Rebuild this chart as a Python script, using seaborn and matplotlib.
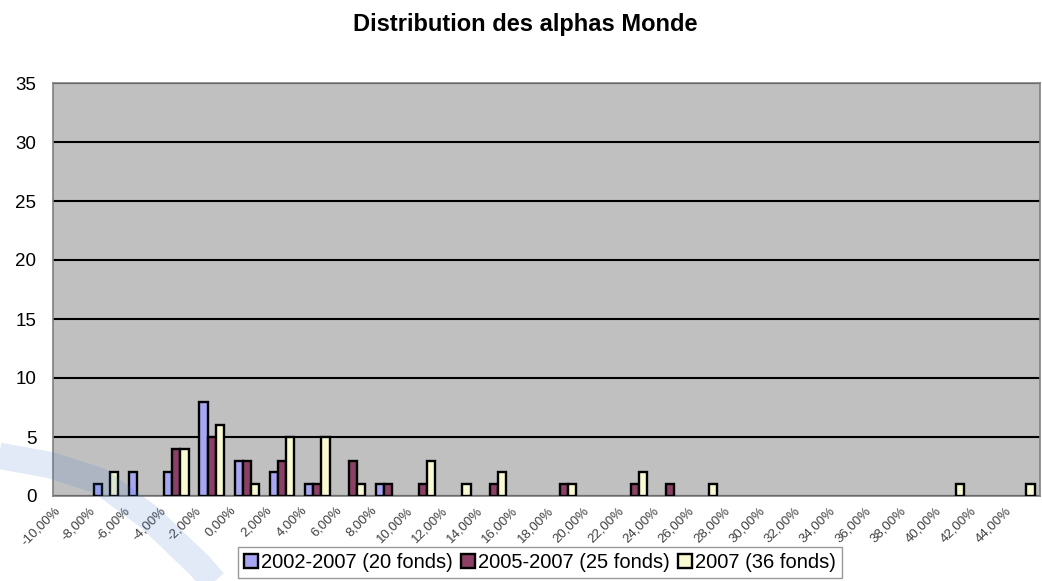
import numpy as np
import pandas as pd
import seaborn as sns
import matplotlib.transforms as mtransforms
from matplotlib import pyplot as plt
from matplotlib.lines import Line2D

# categories of alpha (from -10% to 44%, step 2%)
categories = ['-10,00%', '-8,00%', '-6,00%', '-4,00%', '-2,00%', '0,00%', '2,00%',
              '4,00%', '6,00%', '8,00%', '10,00%', '12,00%', '14,00%', '16,00%',
              '18,00%', '20,00%', '22,00%', '24,00%', '26,00%', '28,00%', '30,00%',
              '32,00%', '34,00%', '36,00%', '38,00%', '40,00%', '42,00%', '44,00%']

series_names = ['2002-2007 (20 fonds)', '2005-2007 (25 fonds)', '2007 (36 fonds)']

counts_2002 = [0, 1, 2, 2, 8, 3, 2, 1, 0, 1, 0, 0, 0, 0,
               0, 0, 0, 0, 0, 0, 0, 0, 0, 0, 0, 0, 0, 0]
counts_2005 = [0, 0, 0, 4, 5, 3, 3, 1, 3, 1, 1, 0, 1, 0,
               1, 0, 1, 1, 0, 0, 0, 0, 0, 0, 0, 0, 0, 0]
counts_2007 = [0, 2, 0, 4, 6, 1, 5, 5, 1, 0, 3, 1, 2, 0,
               1, 0, 2, 0, 1, 0, 0, 0, 0, 0, 0, 1, 0, 1]

colors = ['#9999FF', '#993366', '#FFFFCC']

rows = []
for name, vals in zip(series_names, [counts_2002, counts_2005, counts_2007]):
    for cat, v in zip(categories, vals):
        if v > 0:
            rows.append({'alpha': cat, 'serie': name, 'n': v})
df = pd.DataFrame(rows)

sns.set_style('white')
plt.rcParams['font.family'] = ['Liberation Sans', 'DejaVu Sans']
plt.rcParams['text.color'] = 'black'

fig = plt.figure(figsize=(10.42, 5.81), dpi=100)
ax = fig.add_axes([53 / 1042, 85 / 581, 987 / 1042, 413 / 581])
ax.set_facecolor('#C0C0C0')

sns.barplot(data=df, x='alpha', y='n', hue='serie', order=categories,
            hue_order=series_names, palette=colors, width=0.7,
            edgecolor='black', linewidth=1.7, ax=ax, zorder=3)

ax.set_xlim(-0.5, len(categories) - 0.5)
ax.set_ylim(0, 35)
ax.set_yticks(range(0, 36, 5))
ax.yaxis.grid(True, color='black', linewidth=1.5, zorder=1)
ax.set_axisbelow(True)
ax.set_xlabel('')
ax.set_ylabel('')

for s in ax.spines.values():
    s.set_color('#808080')
    s.set_linewidth(1.2)

# ticks between categories, labels hanging off the boundary like Excel
ax.set_xticks(np.arange(len(categories)) - 0.5, minor=True)
ax.tick_params(axis='x', which='minor', length=4, color='#808080', width=1, direction='out')
ax.tick_params(axis='x', which='major', length=0, pad=6)
ax.tick_params(axis='y', length=4, color='#808080', direction='out', labelsize=13.5,
               labelcolor='black', pad=8)
ax.set_xticks(range(len(categories)))
ax.set_xticklabels(categories, rotation=45, ha='right', rotation_mode='anchor',
                   fontsize=9.5, color='#404040')
offset = mtransforms.ScaledTranslation(-17 / 100, 0, fig.dpi_scale_trans)
for lab in ax.get_xticklabels():
    lab.set_transform(lab.get_transform() + offset)

fig.suptitle('Distribution des alphas Monde', x=0.504, y=0.978, fontsize=17,
             fontweight='bold', color='black')

leg = ax.legend(loc='lower center', bbox_to_anchor=(540 / 1042, 3 / 581),
                bbox_transform=fig.transFigure, ncol=3, frameon=True, fancybox=False,
                fontsize=14.5, handlelength=0.7, handleheight=0.7, handletextpad=0.15,
                columnspacing=0.4, borderpad=0.3, borderaxespad=0)
leg.get_frame().set_edgecolor('#808080')
leg.get_frame().set_linewidth(1)
for t in leg.get_texts():
    t.set_color('black')

# light blue swoosh in the lower left corner of the picture
sx = np.array([-5, 50, 100, 150, 200, 225])
sy = np.array([455, 465, 481, 518, 566, 595])
sw = Line2D(sx / 1042, 1 - sy / 581, transform=fig.transFigure,
            color='#3C78C8', alpha=0.15, linewidth=19, solid_capstyle='butt',
            solid_joinstyle='round', zorder=10)
fig.add_artist(sw)

fig.savefig('out.png', dpi=100)
